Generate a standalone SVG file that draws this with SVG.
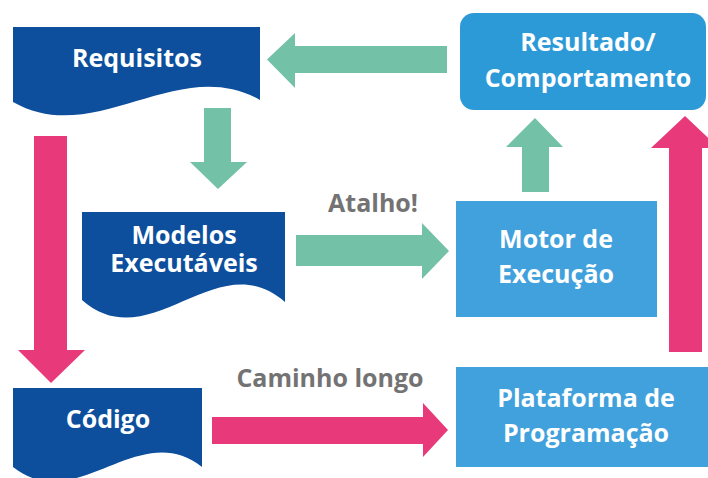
<svg xmlns="http://www.w3.org/2000/svg" width="708" height="478" viewBox="0 0 708 478">
  <style>
    .doc { fill: #0d4f9d; }
    .box { fill: #41a1dc; }
    .res { fill: #2d9ad8; }
    .green { fill: #73c2a8; }
    .pink { fill: #e8397a; }
    .lbl { font-family: "Open Sans", "Liberation Sans", sans-serif; font-weight: bold; font-size: 25px; fill: #ffffff; text-anchor: middle; }
    .note { font-family: "Open Sans", "Liberation Sans", sans-serif; font-weight: bold; font-size: 25px; fill: #737373; text-anchor: middle; }
  </style>
  <rect width="708" height="478" fill="#ffffff"/>

  <g id="connectors">
    <!-- Resultado -> Requisitos -->
    <polygon class="green" points="447,46 295,46 295,33 267,59.5 295,88 295,73 447,73"/>
    <!-- Requisitos -> Modelos -->
    <polygon class="green" points="204,108 231,108 231,162 247,162 218,189 190,162 204,162"/>
    <!-- Modelos -> Motor (Atalho) -->
    <polygon class="green" points="296,235 422,235 422,223 449,251 422,279 422,266 296,266"/>
    <!-- Motor -> Resultado -->
    <polygon class="green" points="522,192 522,147 506,147 535,118 563,147 549,147 549,192"/>
    <!-- Requisitos -> Código -->
    <polygon class="pink" points="34,136 67,136 67,350 85,350 51,383 18,350 34,350"/>
    <!-- Código -> Plataforma (Caminho longo) -->
    <polygon class="pink" points="212,417 423,417 423,403 448,430 423,457 423,444 212,444"/>
    <!-- Plataforma -> Resultado -->
    <polygon class="pink" points="669,352 669,148 651,148 685,116 719,148 702,148 702,352"/>
    <text class="note" x="373" y="212">Atalho!</text>
    <text class="note" x="330" y="387">Caminho longo</text>
  </g>

  <g id="requisitos">
    <path class="doc" d="M13,27 H260 V100 C178,53 95,149 13,102 Z"/>
    <text class="lbl" x="137" y="67">Requisitos</text>
  </g>

  <g id="modelos">
    <path class="doc" d="M82,212 H285 V302 C217,242 150,360 82,300 Z"/>
    <text class="lbl" x="184" y="244"><tspan x="184">Modelos</tspan><tspan x="184" dy="28">Executáveis</tspan></text>
  </g>

  <g id="codigo">
    <path class="doc" d="M13,388 H202 V467 C139,417 76,517 13,467 Z"/>
    <text class="lbl" x="108" y="428">Código</text>
  </g>

  <g id="resultado">
    <rect class="res" x="460" y="13" width="246" height="97" rx="14"/>
    <text class="lbl" x="588" y="51"><tspan x="588">Resultado/</tspan><tspan x="588" dy="36">Comportamento</tspan></text>
  </g>

  <g id="motor">
    <rect class="box" x="456" y="201" width="201" height="116"/>
    <text class="lbl" x="556" y="248"><tspan x="556">Motor de</tspan><tspan x="556" dy="35">Execução</tspan></text>
  </g>

  <g id="plataforma">
    <rect class="box" x="456" y="367" width="252" height="100"/>
    <text class="lbl" x="586" y="407"><tspan x="586">Plataforma de</tspan><tspan x="586" dy="35">Programação</tspan></text>
  </g>
</svg>
